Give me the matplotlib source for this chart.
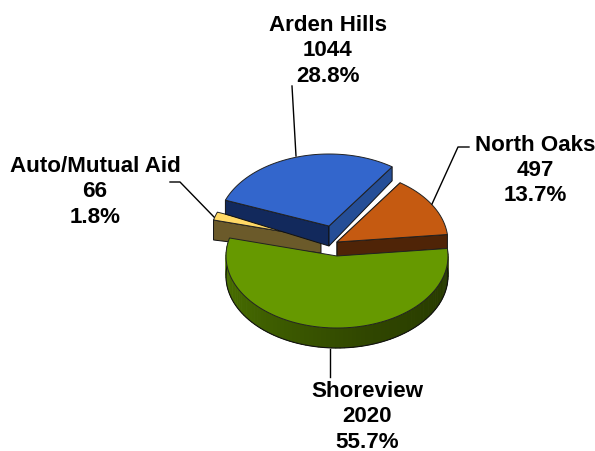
import matplotlib
matplotlib.use('Agg')
import matplotlib.pyplot as plt
from matplotlib.patches import Polygon
import numpy as np

names = ['North Oaks', 'Arden Hills', 'Auto/Mutual Aid', 'Shoreview']
counts = [497, 1044, 66, 2020]
percents = ['13.7%', '28.8%', '1.8%', '55.7%']
top_colors = ['#C55A11', '#3366CC', '#FFD966', '#669900']
front_colors = ['#4F2407', '#12295C', '#6B5A2A', '#2F4500']
back_colors = ['#4F2407', '#254E97', '#6B5A2A', '#2F4500']

# layout, in figure pixels
apex = {'North Oaks': (337, 243), 'Arden Hills': (329, 227),
        'Auto/Mutual Aid': (321, 239), 'Shoreview': (337, 257)}
# wall height at the centre point and at the rim (perspective makes them differ)
depth_in = {'North Oaks': 14.5, 'Arden Hills': 20, 'Auto/Mutual Aid': 15, 'Shoreview': 20}
depth_out = {'North Oaks': 14, 'Arden Hills': 14, 'Auto/Mutual Aid': 20, 'Shoreview': 20}
rx, ry = 111, 72
start_angle = 6

plt.rcParams['font.family'] = ['Liberation Sans', 'DejaVu Sans']
fig = plt.figure(figsize=(5.95, 4.52), dpi=100)
ax = fig.add_axes([0, 0, 1, 1])
ax.set_xlim(0, 595)
ax.set_ylim(452, 0)
ax.axis('off')


def rim(name, angles):
    x0, y0 = apex[name]
    a = np.radians(angles)
    return np.column_stack([x0 + rx * np.cos(a), y0 - ry * np.sin(a)])


def radial_wall(name, angle, color, z):
    p0 = np.array(apex[name], dtype=float)
    p1 = rim(name, [angle])[0]
    ax.add_patch(Polygon([p0, p1, p1 + [0, depth_out[name]], p0 + [0, depth_in[name]]],
                         closed=True, fc=color, ec='#111111', lw=0.7, zorder=z))


fractions = np.array(counts) / sum(counts) * 360
edges = start_angle + np.concatenate([[0], np.cumsum(fractions)])
draw_z = {'Auto/Mutual Aid': 1, 'Arden Hills': 2, 'North Oaks': 3, 'Shoreview': 4}

for i, name in enumerate(names):
    a0, a1 = edges[i], edges[i + 1]
    z = draw_z[name]
    arc = np.linspace(a0, a1, 120)
    pts = rim(name, arc)
    if name == 'Shoreview':
        # front wall shades from olive on the left to almost black on the right
        left = np.array(matplotlib.colors.to_rgb('#4F7A00'))
        mid = np.array(matplotlib.colors.to_rgb('#304600'))
        right = np.array(matplotlib.colors.to_rgb('#243600'))
        wall = np.linspace(a0, a1, 90)
        for j in range(len(wall) - 1):
            t = (wall[j] - a0) / (a1 - a0)
            col = left + (mid - left) * t / 0.6 if t < 0.6 else mid + (right - mid) * (t - 0.6) / 0.4
            q = rim(name, [wall[j], wall[j + 1] + 0.4])
            d = [0, depth_out[name]]
            ax.add_patch(Polygon([q[0], q[1], q[1] + d, q[0] + d], closed=True, fc=col,
                                 ec=col, lw=0.4, zorder=z))
        ax.plot(pts[:, 0], pts[:, 1] + depth_out[name], color='#111111', lw=0.8, zorder=z)
    else:
        radial_wall(name, a1, front_colors[i], z)
        if name == 'Arden Hills':
            radial_wall(name, a0, back_colors[i], z)
        if name == 'North Oaks':
            radial_wall(name, a0, front_colors[i], z)
    ax.add_patch(Polygon(np.vstack([apex[name], pts]), closed=True, fc=top_colors[i],
                         ec='#222222', lw=0.7, zorder=z + 0.5))

label_xy = {'North Oaks': (535, 170.5), 'Arden Hills': (328, 51),
            'Auto/Mutual Aid': (95, 192), 'Shoreview': (367, 417)}
for i, name in enumerate(names):
    x, y = label_xy[name]
    ax.text(x, y, f'{name}\n{counts[i]}\n{percents[i]}', ha='center', va='center',
            fontsize=16.1, fontweight='bold', color='black', linespacing=1.26, zorder=6)

leaders = [[(292, 87), (296, 157)],
           [(469, 148), (458, 148), (432, 205)],
           [(330, 350), (330, 378)],
           [(170, 183), (180, 183), (214, 218)]]
for line in leaders:
    xs, ys = zip(*line)
    ax.plot(xs, ys, color='black', lw=1.0, zorder=5)

fig.savefig('out.png', dpi=100)
